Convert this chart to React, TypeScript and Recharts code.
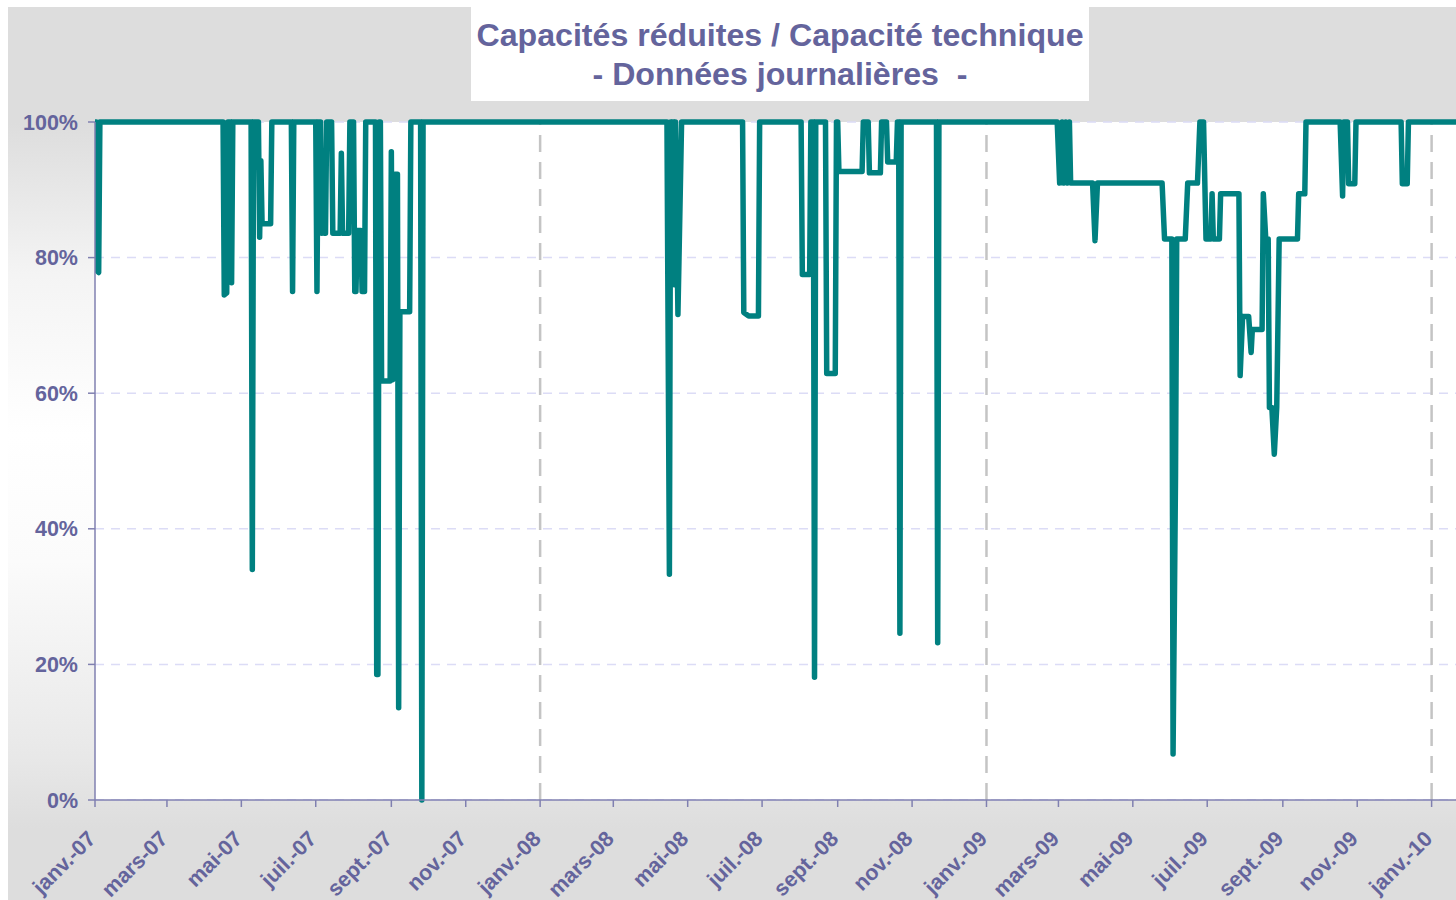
import React from "react";
import { LineChart, Line, XAxis, YAxis, CartesianGrid, ReferenceLine } from "recharts";

// ---- Data (daily values; only change points listed, runs at 100% are flat) ----
const dates: string[] = [
  "2007-01-01", "2007-01-02", "2007-01-03", "2007-01-04", "2007-01-05",
  "2007-04-16", "2007-04-17", "2007-04-19", "2007-04-20", "2007-04-22", "2007-04-23", "2007-04-24",
  "2007-05-09", "2007-05-10", "2007-05-11", "2007-05-15", "2007-05-16", "2007-05-17", "2007-05-18", "2007-05-25", "2007-05-26",
  "2007-06-11", "2007-06-12", "2007-06-13",
  "2007-07-01", "2007-07-02", "2007-07-03", "2007-07-05", "2007-07-06", "2007-07-07", "2007-07-08", "2007-07-09", "2007-07-10",
  "2007-07-14", "2007-07-15", "2007-07-21", "2007-07-22", "2007-07-23", "2007-07-28", "2007-07-29",
  "2007-08-01", "2007-08-02", "2007-08-03", "2007-08-04", "2007-08-07", "2007-08-08", "2007-08-10", "2007-08-11",
  "2007-08-19", "2007-08-20", "2007-08-21", "2007-08-22", "2007-08-23", "2007-08-24", "2007-08-31",
  "2007-09-01", "2007-09-02", "2007-09-04", "2007-09-06", "2007-09-07", "2007-09-08", "2007-09-16", "2007-09-17",
  "2007-09-25", "2007-09-26", "2007-09-27",
  "2008-04-14", "2008-04-16", "2008-04-17", "2008-04-18", "2008-04-19", "2008-04-20", "2008-04-21", "2008-04-23", "2008-04-26",
  "2008-06-15", "2008-06-16", "2008-06-20", "2008-06-28", "2008-06-29",
  "2008-08-02", "2008-08-03", "2008-08-09", "2008-08-10", "2008-08-12", "2008-08-13", "2008-08-14",
  "2008-08-22", "2008-08-23", "2008-08-30", "2008-08-31", "2008-09-01", "2008-09-02", "2008-09-21", "2008-09-22",
  "2008-09-26", "2008-09-27", "2008-10-06", "2008-10-07",
  "2008-10-11", "2008-10-12", "2008-10-19", "2008-10-20", "2008-10-21", "2008-10-22", "2008-10-23",
  "2008-11-21", "2008-11-22", "2008-11-23",
  "2009-02-28", "2009-03-02", "2009-03-04", "2009-03-05", "2009-03-07", "2009-03-08", "2009-03-10", "2009-03-11", "2009-03-14",
  "2009-03-29", "2009-03-31", "2009-04-02",
  "2009-05-25", "2009-05-27", "2009-06-02", "2009-06-03", "2009-06-05", "2009-06-06", "2009-06-13", "2009-06-15",
  "2009-06-23", "2009-06-25", "2009-06-28", "2009-06-30",
  "2009-07-04", "2009-07-05", "2009-07-06", "2009-07-11", "2009-07-12", "2009-07-27", "2009-07-28", "2009-07-30",
  "2009-08-04", "2009-08-06", "2009-08-07", "2009-08-15", "2009-08-16", "2009-08-18", "2009-08-20", "2009-08-21",
  "2009-08-23", "2009-08-25", "2009-08-27", "2009-08-29",
  "2009-09-13", "2009-09-14", "2009-09-19", "2009-09-20",
  "2009-10-18", "2009-10-20", "2009-10-21", "2009-10-24", "2009-10-25", "2009-10-30", "2009-10-31",
  "2009-12-07", "2009-12-08", "2009-12-12", "2009-12-13",
  "2010-01-21",
];

const values: number[] = [
  100, 100, 78, 77.8, 100,
  100, 74.5, 74.8, 100, 100, 76.3, 100,
  100, 34, 100, 100, 83, 94.3, 85, 85, 100,
  100, 75, 100,
  100, 75, 100, 100, 83.6, 95.4, 83.6, 83.6, 100,
  100, 83.6, 83.6, 95.4, 83.6, 83.6, 100,
  100, 75, 75, 84, 84, 75, 75, 100,
  100, 18.5, 18.5, 100, 100, 61.8, 61.8,
  95.6, 62, 92.3, 92.3, 13.6, 72, 72, 100,
  100, 0, 100,
  100, 33.3, 100, 78, 100, 76, 100, 71.6, 100,
  100, 71.9, 71.4, 71.4, 100,
  100, 77.5, 77.5, 100, 100, 18.1, 100,
  100, 62.9, 62.9, 100, 100, 92.7, 92.7, 100,
  100, 92.5, 92.5, 100,
  100, 94.1, 94.1, 100, 100, 24.6, 100,
  100, 23.2, 100,
  100, 91, 100, 91, 100, 91, 100, 91, 91,
  91, 82.5, 91,
  91, 82.75, 82.75, 6.8, 47.7, 82.75, 82.75, 91,
  91, 100, 100, 82.75,
  82.75, 89.4, 82.75, 82.75, 89.4, 89.4, 62.6, 71.3,
  71.3, 66, 69.4, 69.4, 89.4, 82.75, 82.75, 57.9,
  57.9, 51, 57.9, 82.75,
  82.75, 89.4, 89.4, 100,
  100, 89.1, 100, 100, 90.9, 90.9, 100,
  100, 90.9, 90.9, 100,
  100,
];

const xTickDates: string[] = [
  "2007-01-01", "2007-03-01", "2007-05-01", "2007-07-01", "2007-09-01", "2007-11-01",
  "2008-01-01", "2008-03-01", "2008-05-01", "2008-07-01", "2008-09-01", "2008-11-01",
  "2009-01-01", "2009-03-01", "2009-05-01", "2009-07-01", "2009-09-01", "2009-11-01",
  "2010-01-01",
];
const xTickLabels: string[] = [
  "janv.-07", "mars-07", "mai-07", "juil.-07", "sept.-07", "nov.-07",
  "janv.-08", "mars-08", "mai-08", "juil.-08", "sept.-08", "nov.-08",
  "janv.-09", "mars-09", "mai-09", "juil.-09", "sept.-09", "nov.-09",
  "janv.-10",
];
const yearStartDates: string[] = ["2008-01-01", "2009-01-01", "2010-01-01"];
const yTicks: number[] = [0, 20, 40, 60, 80, 100];
const domainDates: string[] = ["2007-01-01", "2010-01-21"];

const titleLine1 = "Capacités réduites / Capacité technique";
const titleLine2 = "- Données journalières  -";

// ---- Layout ----
const W = 1448;
const H = 893;
const PLOT_TOP = 115;
const Y_AXIS_W = 87;
const X_AXIS_H = 100;
const PLOT_BOTTOM = H - X_AXIS_H;
const PURPLE = "#64649c";
const AXIS = "#8080b0";
const FONT = "Arial, 'Liberation Sans', sans-serif";

const ts = (s: string) => Date.parse(s + "T00:00:00Z");
const data = dates.map((d, i) => ({ t: ts(d), v: values[i] }));
const xTicks = xTickDates.map(ts);

const XTick = (props: any) => {
  const { x, payload } = props;
  const idx = xTicks.indexOf(payload.value);
  const label = idx >= 0 ? xTickLabels[idx] : "";
  const x0 = x + 2;
  const y0 = PLOT_BOTTOM + 40;
  return (
    <text
      x={x0}
      y={y0}
      transform={`rotate(-45, ${x0}, ${y0})`}
      textAnchor="end"
      fill={PURPLE}
      fontSize={21.5}
      fontWeight="bold"
      fontFamily={FONT}
    >
      {label}
    </text>
  );
};

export default function App() {
  return (
    <div
      style={{
        position: "fixed",
        left: 8,
        top: 7,
        width: W,
        height: H,
        background:
          "linear-gradient(to bottom, #dddddd 0%, #dddddd 13%, #f4f4f4 30%, #ffffff 48%, #fbfbfb 62%, #e8e8e8 84%, #dddddd 92%, #dddddd 100%)",
        overflow: "hidden",
      }}
    >
      <LineChart
        width={W}
        height={H}
        data={data}
        margin={{ top: PLOT_TOP, right: 0, bottom: 0, left: 0 }}
      >
        <CartesianGrid
          vertical={false}
          fill="#ffffff"
          stroke="#dcdcf6"
          strokeWidth={1.5}
          strokeDasharray="9 7"
        />
        {yearStartDates.map((d) => (
          <ReferenceLine
            key={d}
            x={ts(d)}
            stroke="#c4c4c4"
            strokeWidth={2.5}
            strokeDasharray="17 10"
          />
        ))}
        <XAxis
          dataKey="t"
          type="number"
          domain={[ts(domainDates[0]), ts(domainDates[1])]}
          allowDataOverflow
          ticks={xTicks}
          interval={0}
          tick={<XTick />}
          tickSize={7}
          height={X_AXIS_H}
          axisLine={{ stroke: AXIS, strokeWidth: 1.5 }}
          tickLine={{ stroke: AXIS, strokeWidth: 1.5 }}
        />
        <YAxis
          type="number"
          domain={[0, 100]}
          ticks={yTicks}
          interval={0}
          width={Y_AXIS_W}
          tickSize={7}
          tickMargin={10}
          tickFormatter={(v: number) => `${v}%`}
          tick={{ fill: PURPLE, fontSize: 21.5, fontWeight: "bold", fontFamily: FONT }}
          axisLine={{ stroke: AXIS, strokeWidth: 1.5 }}
          tickLine={{ stroke: AXIS, strokeWidth: 1.5 }}
        />
        <Line
          dataKey="v"
          type="linear"
          stroke="#008080"
          strokeWidth={5.5}
          strokeLinejoin="round"
          strokeLinecap="round"
          dot={false}
          activeDot={false}
          isAnimationActive={false}
        />
      </LineChart>
      <svg
        width={W}
        height={100}
        style={{ position: "absolute", left: 0, top: 0, pointerEvents: "none" }}
      >
        <rect x={463} y={0} width={618} height={94} fill="#ffffff" />
        <text
          x={772}
          y={39}
          textAnchor="middle"
          fill={PURPLE}
          fontSize={32}
          fontWeight="bold"
          fontFamily={FONT}
          textLength={607}
          lengthAdjust="spacingAndGlyphs"
        >
          {titleLine1}
        </text>
        <text
          x={772}
          y={78}
          textAnchor="middle"
          fill={PURPLE}
          fontSize={32}
          fontWeight="bold"
          fontFamily={FONT}
          textLength={375}
          lengthAdjust="spacingAndGlyphs"
          style={{ whiteSpace: "pre" }}
        >
          {titleLine2}
        </text>
      </svg>
    </div>
  );
}
